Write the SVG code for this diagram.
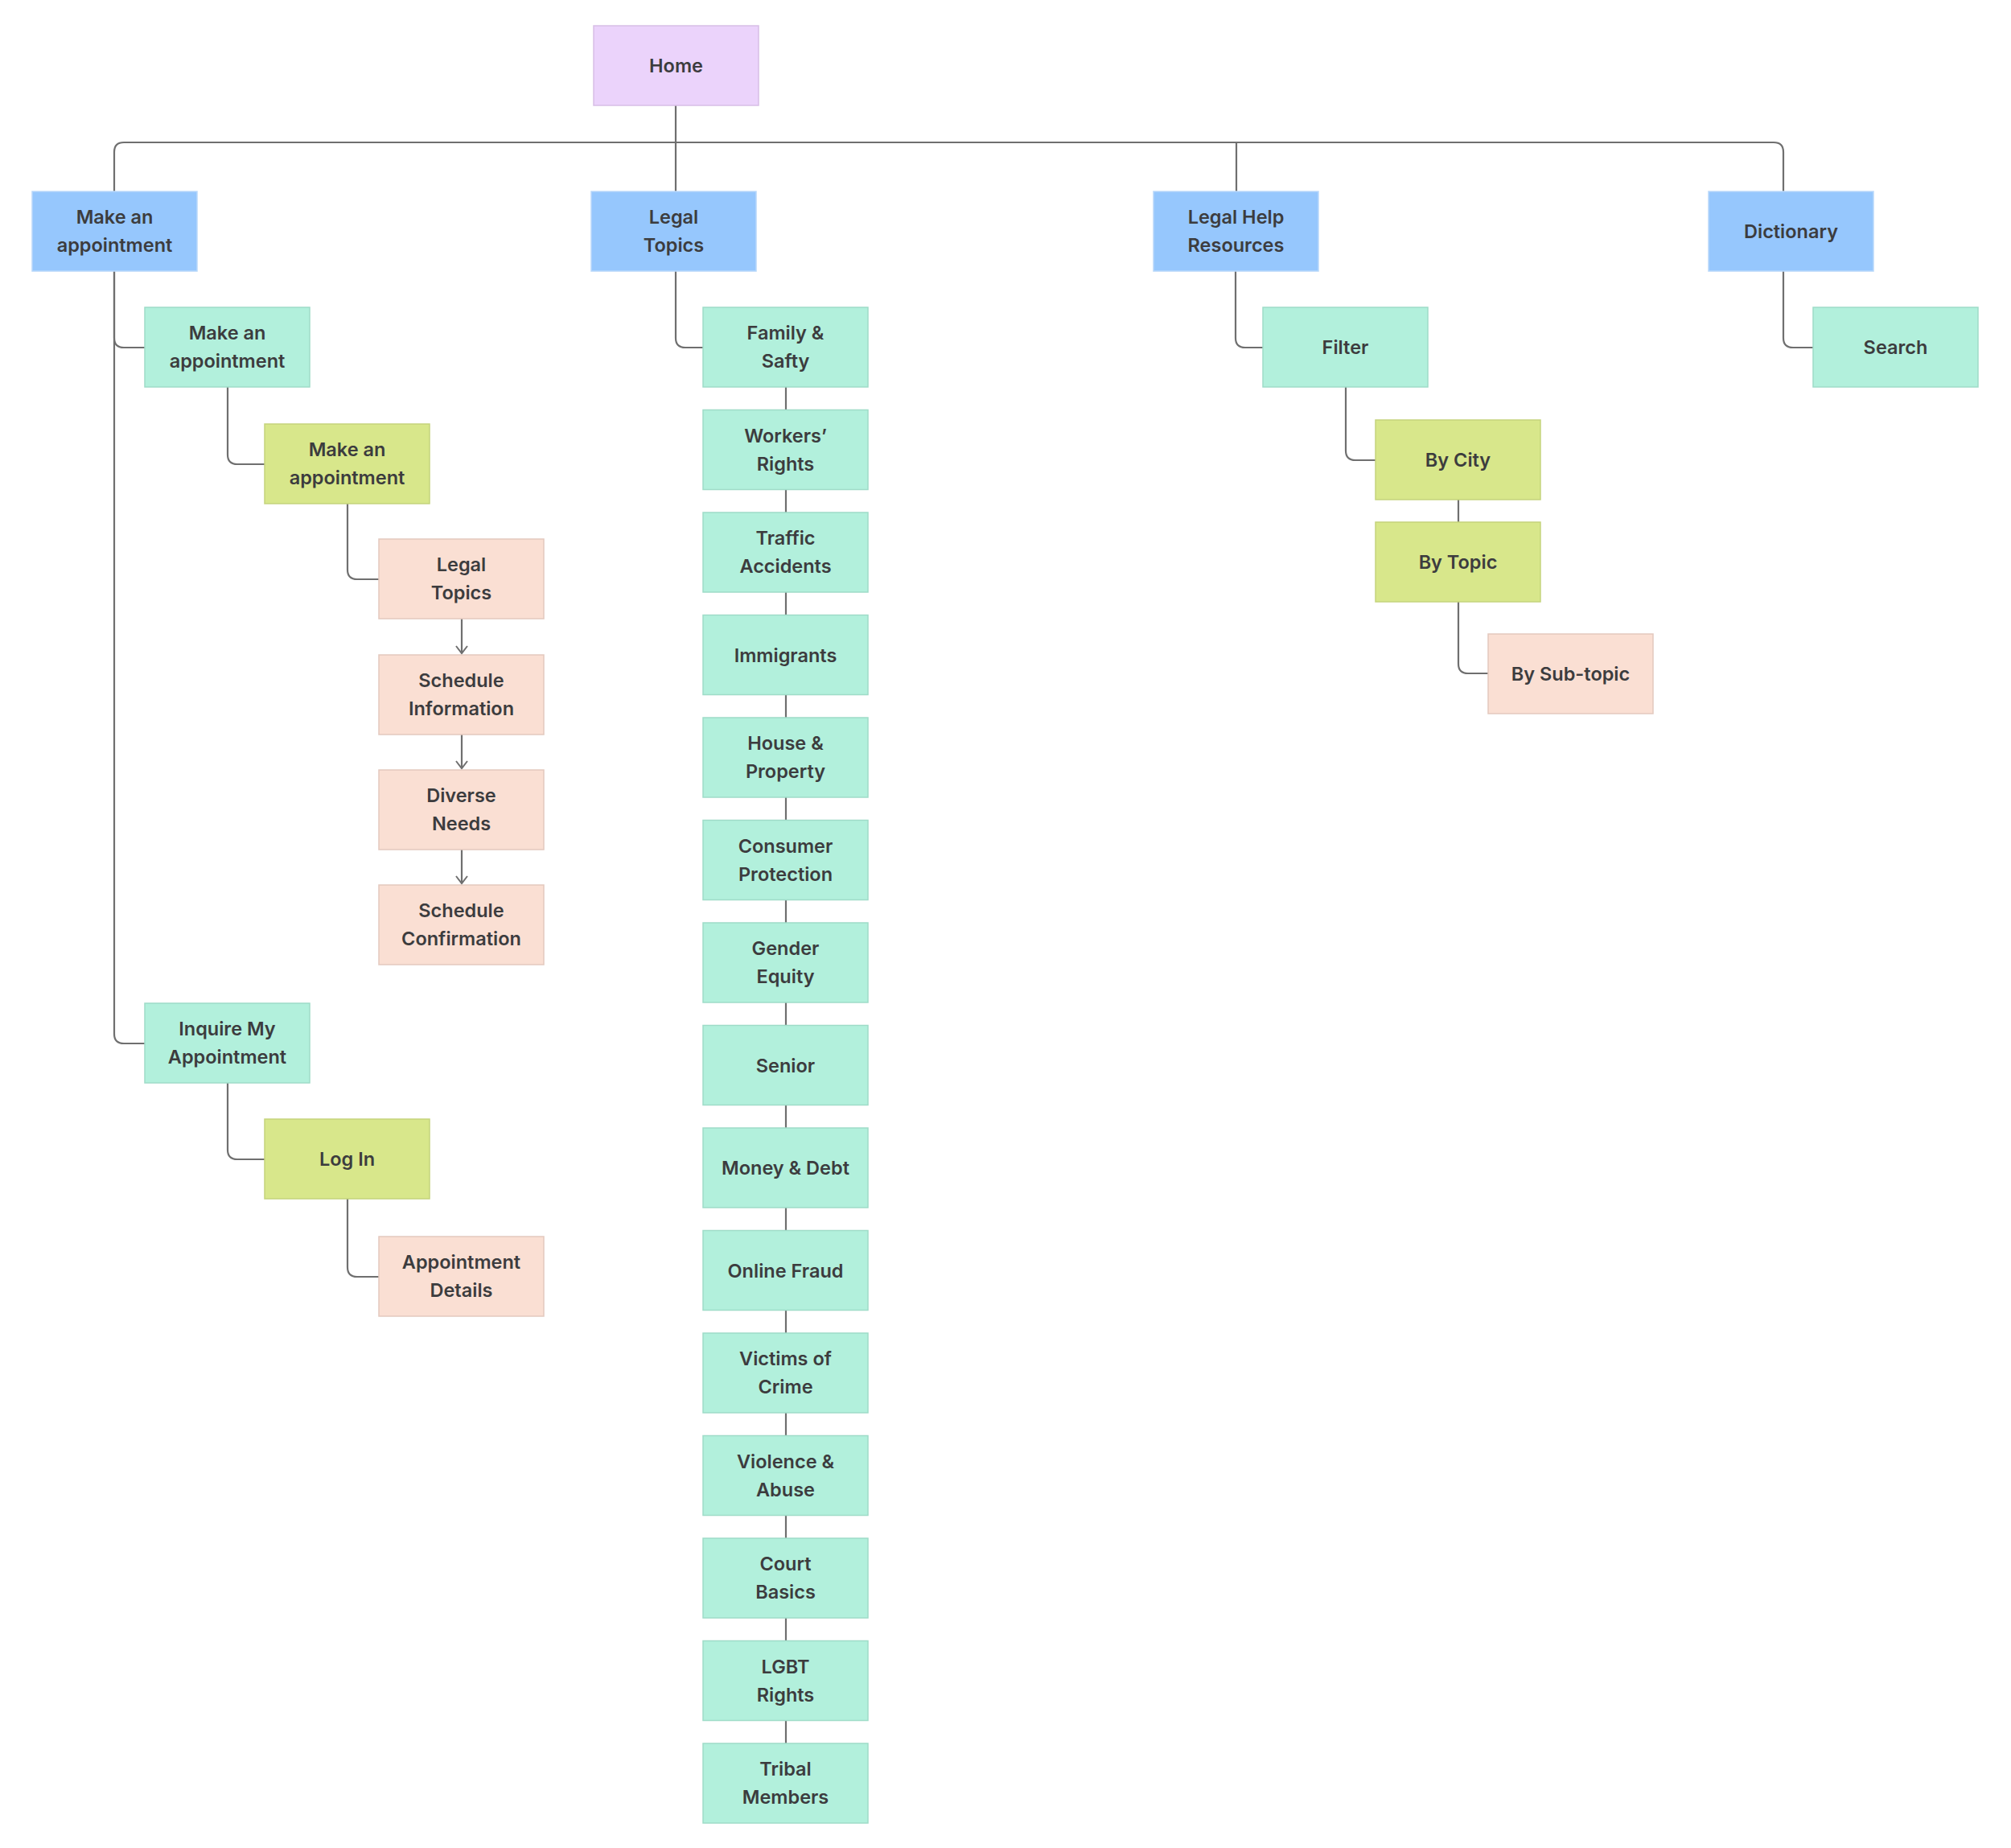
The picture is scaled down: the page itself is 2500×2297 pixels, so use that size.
<svg xmlns="http://www.w3.org/2000/svg" width="2500" height="2297" viewBox="0 0 2500 2297">
<style>
  .n rect { stroke-width: 1.5; }
  .home rect { fill: #EBD3FB; stroke: #D7BEE6; }
  .blue rect { fill: #96C7FD; stroke: #B9D8FA; }
  .teal rect { fill: #B2F0DC; stroke: #9FDCC8; }
  .green rect { fill: #D8E78B; stroke: #C5D47C; }
  .pink rect { fill: #FADFD3; stroke: #E3C9BE; }
  .n text { font-family: Inter, "Open Sans", "Liberation Sans", sans-serif; font-weight: 600; font-size: 23.5px; fill: #3C3C3E; text-anchor: middle; }
  .c path, .c line { fill: none; stroke: #6F6F6F; stroke-width: 2.2; }
</style>
<defs>
  <marker id="arr" markerUnits="userSpaceOnUse" markerWidth="12" markerHeight="16" refX="10" refY="8" orient="auto" viewBox="0 0 12 16">
    <path d="M1,1 L10,8 L1,15" fill="none" stroke="#6F6F6F" stroke-width="2"/>
  </marker>
</defs>
<rect width="2500" height="2297" fill="#FFFFFF"/>

<g class="c" id="connectors">
  <!-- bus -->
  <line x1="840" y1="131" x2="840" y2="238"/>
  <path d="M142 238 V189 Q142 177 154 177 H2205 Q2217 177 2217 189 V238"/>
  <line x1="1537" y1="177" x2="1537" y2="238"/>
  <!-- left column -->
  <path d="M142 337 V420 Q142 432 154 432 H180"/>
  <path d="M142 337 V1285 Q142 1297 154 1297 H180"/>
  <path d="M283 481 V565 Q283 577 295 577 H329"/>
  <path d="M432 626 V708 Q432 720 444 720 H471"/>
  <line x1="574" y1="769" x2="574" y2="812" marker-end="url(#arr)"/>
  <line x1="574" y1="913" x2="574" y2="955" marker-end="url(#arr)"/>
  <line x1="574" y1="1056" x2="574" y2="1098" marker-end="url(#arr)"/>
  <path d="M283 1346 V1429 Q283 1441 295 1441 H329"/>
  <path d="M432 1490 V1575 Q432 1587 444 1587 H471"/>
  <!-- legal topics -->
  <path d="M840 337 V420 Q840 432 852 432 H874"/>
  <line x1="977" y1="481" x2="977" y2="509.5"/>
  <line x1="977" y1="608.5" x2="977" y2="637"/>
  <line x1="977" y1="736" x2="977" y2="764.5"/>
  <line x1="977" y1="863.5" x2="977" y2="892"/>
  <line x1="977" y1="991" x2="977" y2="1019.5"/>
  <line x1="977" y1="1118.5" x2="977" y2="1147"/>
  <line x1="977" y1="1246" x2="977" y2="1274.5"/>
  <line x1="977" y1="1373.5" x2="977" y2="1402"/>
  <line x1="977" y1="1501" x2="977" y2="1529.5"/>
  <line x1="977" y1="1628.5" x2="977" y2="1657"/>
  <line x1="977" y1="1756" x2="977" y2="1784.5"/>
  <line x1="977" y1="1883.5" x2="977" y2="1912"/>
  <line x1="977" y1="2011" x2="977" y2="2039.5"/>
  <line x1="977" y1="2138.5" x2="977" y2="2167"/>
  <!-- legal help resources -->
  <path d="M1536 337 V420 Q1536 432 1548 432 H1570"/>
  <path d="M1673 481 V560 Q1673 572 1685 572 H1710"/>
  <line x1="1813" y1="621" x2="1813" y2="649"/>
  <path d="M1813 748 V825 Q1813 837 1825 837 H1850"/>
  <!-- dictionary -->
  <path d="M2217 337 V420 Q2217 432 2229 432 H2254"/>
</g>

<g id="home" class="n home"><rect x="738" y="32" width="205" height="99"/><text x="840.5" y="90">Home</text></g>

<g id="make-appointment-1" class="n blue"><rect x="40" y="238" width="205" height="99"/><text x="142.5" y="278">Make an</text><text x="142.5" y="313">appointment</text></g>
<g id="legal-topics" class="n blue"><rect x="735" y="238" width="205" height="99"/><text x="837.5" y="278">Legal</text><text x="837.5" y="313">Topics</text></g>
<g id="legal-help-resources" class="n blue"><rect x="1434" y="238" width="205" height="99"/><text x="1536.5" y="278">Legal Help</text><text x="1536.5" y="313">Resources</text></g>
<g id="dictionary" class="n blue"><rect x="2124" y="238" width="205" height="99"/><text x="2226.5" y="296">Dictionary</text></g>

<g id="make-appointment-2" class="n teal"><rect x="180" y="382" width="205" height="99"/><text x="282.5" y="422">Make an</text><text x="282.5" y="457">appointment</text></g>
<g id="make-appointment-3" class="n green"><rect x="329" y="527" width="205" height="99"/><text x="431.5" y="567">Make an</text><text x="431.5" y="602">appointment</text></g>
<g id="appt-legal-topics" class="n pink"><rect x="471" y="670" width="205" height="99"/><text x="573.5" y="710">Legal</text><text x="573.5" y="745">Topics</text></g>
<g id="schedule-information" class="n pink"><rect x="471" y="814" width="205" height="99"/><text x="573.5" y="854">Schedule</text><text x="573.5" y="889">Information</text></g>
<g id="diverse-needs" class="n pink"><rect x="471" y="957" width="205" height="99"/><text x="573.5" y="997">Diverse</text><text x="573.5" y="1032">Needs</text></g>
<g id="schedule-confirmation" class="n pink"><rect x="471" y="1100" width="205" height="99"/><text x="573.5" y="1140">Schedule</text><text x="573.5" y="1175">Confirmation</text></g>
<g id="inquire" class="n teal"><rect x="180" y="1247" width="205" height="99"/><text x="282.5" y="1287">Inquire My</text><text x="282.5" y="1322">Appointment</text></g>
<g id="login" class="n green"><rect x="329" y="1391" width="205" height="99"/><text x="431.5" y="1449">Log In</text></g>
<g id="appointment-details" class="n pink"><rect x="471" y="1537" width="205" height="99"/><text x="573.5" y="1577">Appointment</text><text x="573.5" y="1612">Details</text></g>

<g id="t-family" class="n teal"><rect x="874" y="382" width="205" height="99"/><text x="976.5" y="422">Family &amp;</text><text x="976.5" y="457">Safty</text></g>
<g id="t-workers" class="n teal"><rect x="874" y="509.5" width="205" height="99"/><text x="976.5" y="549.5">Workers’</text><text x="976.5" y="584.5">Rights</text></g>
<g id="t-traffic" class="n teal"><rect x="874" y="637" width="205" height="99"/><text x="976.5" y="677">Traffic</text><text x="976.5" y="712">Accidents</text></g>
<g id="t-immigrants" class="n teal"><rect x="874" y="764.5" width="205" height="99"/><text x="976.5" y="822.5">Immigrants</text></g>
<g id="t-house" class="n teal"><rect x="874" y="892" width="205" height="99"/><text x="976.5" y="932">House &amp;</text><text x="976.5" y="967">Property</text></g>
<g id="t-consumer" class="n teal"><rect x="874" y="1019.5" width="205" height="99"/><text x="976.5" y="1059.5">Consumer</text><text x="976.5" y="1094.5">Protection</text></g>
<g id="t-gender" class="n teal"><rect x="874" y="1147" width="205" height="99"/><text x="976.5" y="1187">Gender</text><text x="976.5" y="1222">Equity</text></g>
<g id="t-senior" class="n teal"><rect x="874" y="1274.5" width="205" height="99"/><text x="976.5" y="1332.5">Senior</text></g>
<g id="t-money" class="n teal"><rect x="874" y="1402" width="205" height="99"/><text x="976.5" y="1460">Money &amp; Debt</text></g>
<g id="t-online" class="n teal"><rect x="874" y="1529.5" width="205" height="99"/><text x="976.5" y="1587.5">Online Fraud</text></g>
<g id="t-victims" class="n teal"><rect x="874" y="1657" width="205" height="99"/><text x="976.5" y="1697">Victims of</text><text x="976.5" y="1732">Crime</text></g>
<g id="t-violence" class="n teal"><rect x="874" y="1784.5" width="205" height="99"/><text x="976.5" y="1824.5">Violence &amp;</text><text x="976.5" y="1859.5">Abuse</text></g>
<g id="t-court" class="n teal"><rect x="874" y="1912" width="205" height="99"/><text x="976.5" y="1952">Court</text><text x="976.5" y="1987">Basics</text></g>
<g id="t-lgbt" class="n teal"><rect x="874" y="2039.5" width="205" height="99"/><text x="976.5" y="2079.5">LGBT</text><text x="976.5" y="2114.5">Rights</text></g>
<g id="t-tribal" class="n teal"><rect x="874" y="2167" width="205" height="99"/><text x="976.5" y="2207">Tribal</text><text x="976.5" y="2242">Members</text></g>

<g id="filter" class="n teal"><rect x="1570" y="382" width="205" height="99"/><text x="1672.5" y="440">Filter</text></g>
<g id="by-city" class="n green"><rect x="1710" y="522" width="205" height="99"/><text x="1812.5" y="580">By City</text></g>
<g id="by-topic" class="n green"><rect x="1710" y="649" width="205" height="99"/><text x="1812.5" y="707">By Topic</text></g>
<g id="by-subtopic" class="n pink"><rect x="1850" y="788" width="205" height="99"/><text x="1952.5" y="846">By Sub-topic</text></g>
<g id="search" class="n teal"><rect x="2254" y="382" width="205" height="99"/><text x="2356.5" y="440">Search</text></g>
</svg>
